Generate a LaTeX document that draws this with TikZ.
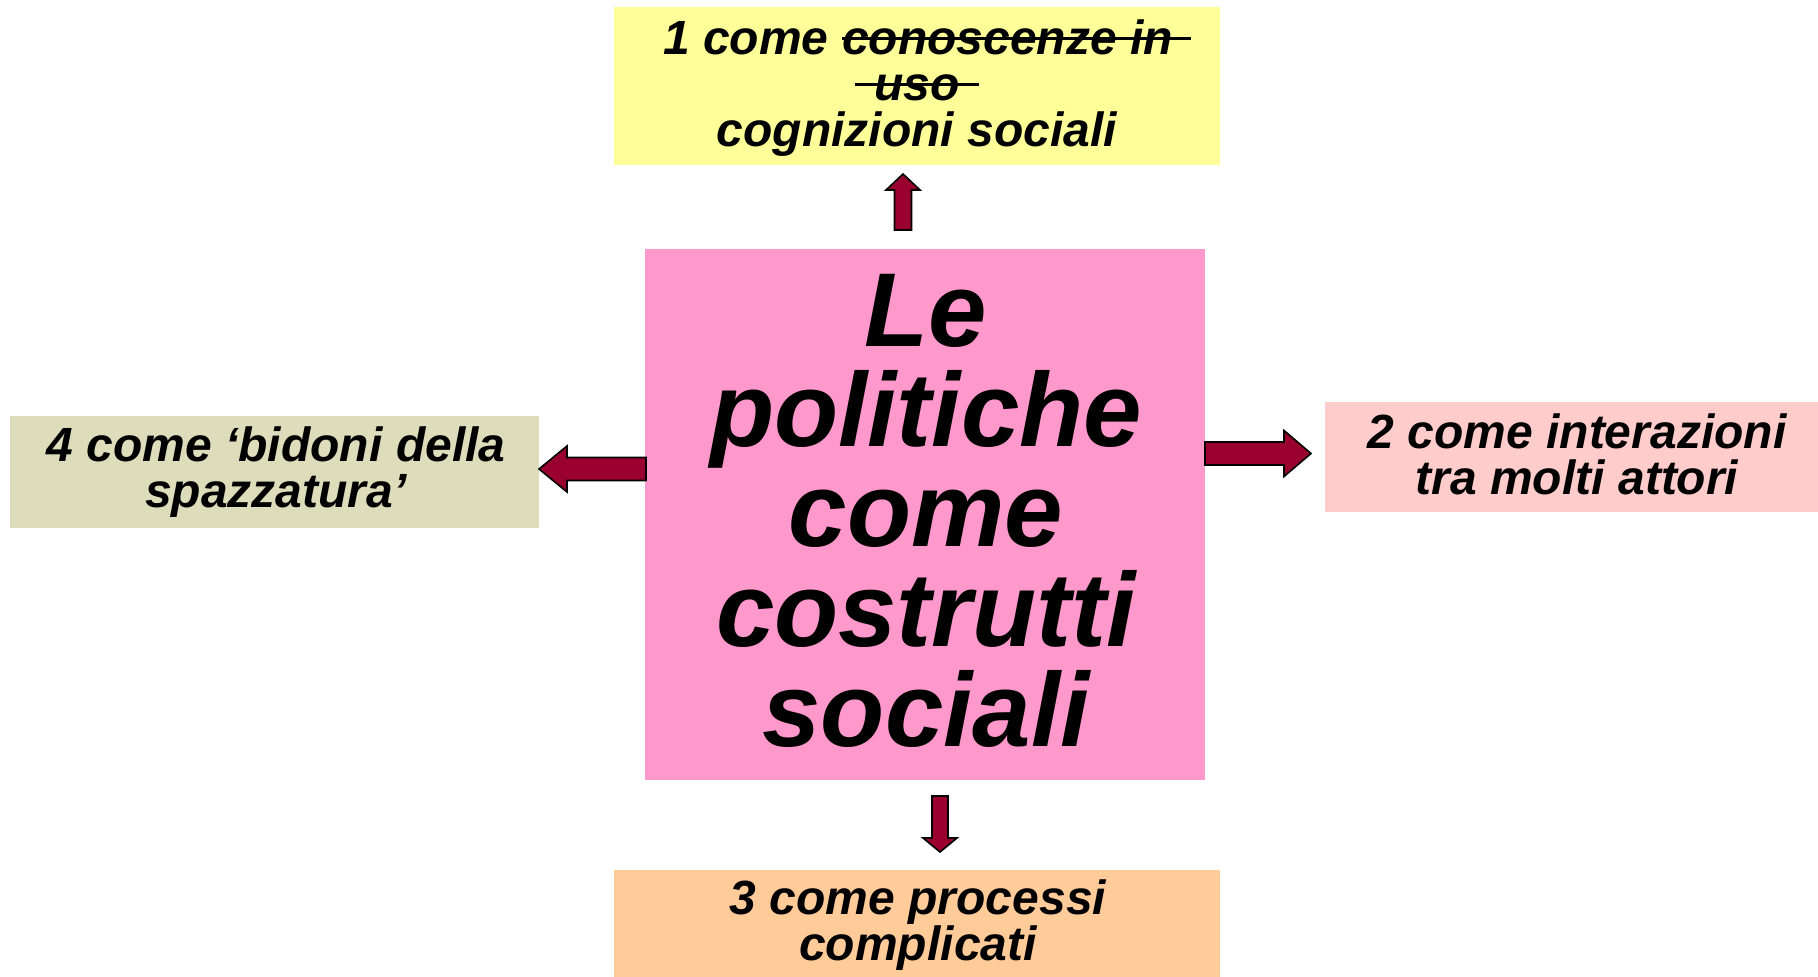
\documentclass[tikz,border=0pt]{standalone}
\usepackage{fontspec}
\setmainfont{Liberation Sans}
\definecolor{cyellow}{HTML}{FFFF99}
\definecolor{cpink}{HTML}{FF99CC}
\definecolor{crose}{HTML}{FFCCCC}
\definecolor{corange}{HTML}{FFCC99}
\definecolor{colive}{HTML}{DDDDBB}
\definecolor{carrow}{HTML}{99002F}
\newsavebox\strkbox
\newcommand\mystrike[1]{\sbox\strkbox{#1}\rlap{\raisebox{0.29em}{\rule{\wd\strkbox}{0.075em}}}\usebox\strkbox}
\tikzset{
  box/.style={rectangle, inner sep=0pt, align=center, font=\fontsize{48}{46}\selectfont\bfseries\itshape},
  bigbox/.style={rectangle, inner sep=0pt, align=center, font=\fontsize{105}{100}\selectfont\bfseries\itshape},
  barrow/.style={fill=carrow, draw=black, line width=1.6pt, line join=miter}
}
\begin{document}
\begin{tikzpicture}[x=1pt,y=-1pt]
\useasboundingbox (0,0) rectangle (1818,977);
% boxes
\node[box, fill=cyellow, minimum width=606pt, minimum height=158pt] (top) at (917,86) {};
\node[box] (toptext) at (917,88) {\hspace*{20pt}1 come \mystrike{conoscenze in\hspace*{18pt}}\\\mystrike{\hspace*{19pt}uso\hspace*{19pt}}\\cognizioni sociali};
\node[bigbox, fill=cpink, minimum width=560pt, minimum height=531pt] (center) at (925,514.5) {};
\node[bigbox] (centertext) at (926,511) {Le\\politiche\\come\\costrutti\\sociali};
\node[box, fill=colive, minimum width=529pt, minimum height=112pt] (left) at (274.5,472) {};
\node[box] (lefttext) at (276,472) {4 come ‘bidoni della\\spazzatura’};
\node[box, fill=crose, minimum width=493pt, minimum height=110pt] (right) at (1571.5,457) {};
\node[box] (righttext) at (1577,454) {2 come interazioni\\tra molti attori};
\node[box, fill=corange, minimum width=606pt, minimum height=107pt] (bottom) at (917,923.5) {};
\node[box] (bottomtext) at (918,925) {3 come processi\\complicati};
% block arrows
\draw[barrow] (646,457.5) -- (567,457.5) -- (567,446) -- (539,469) -- (567,492) -- (567,480.5) -- (646,480.5) -- cycle;
\draw[barrow] (1205,442) -- (1284,442) -- (1284,430.5) -- (1311,453.5) -- (1284,476.5) -- (1284,465) -- (1205,465) -- cycle;
\draw[barrow] (932,796) -- (932,838) -- (923,838) -- (940,852) -- (957,838) -- (948,838) -- (948,796) -- cycle;
\draw[barrow] (894.5,230) -- (894.5,190) -- (886,190) -- (903,174) -- (920,190) -- (911.5,190) -- (911.5,230) -- cycle;
\end{tikzpicture}
\end{document}
